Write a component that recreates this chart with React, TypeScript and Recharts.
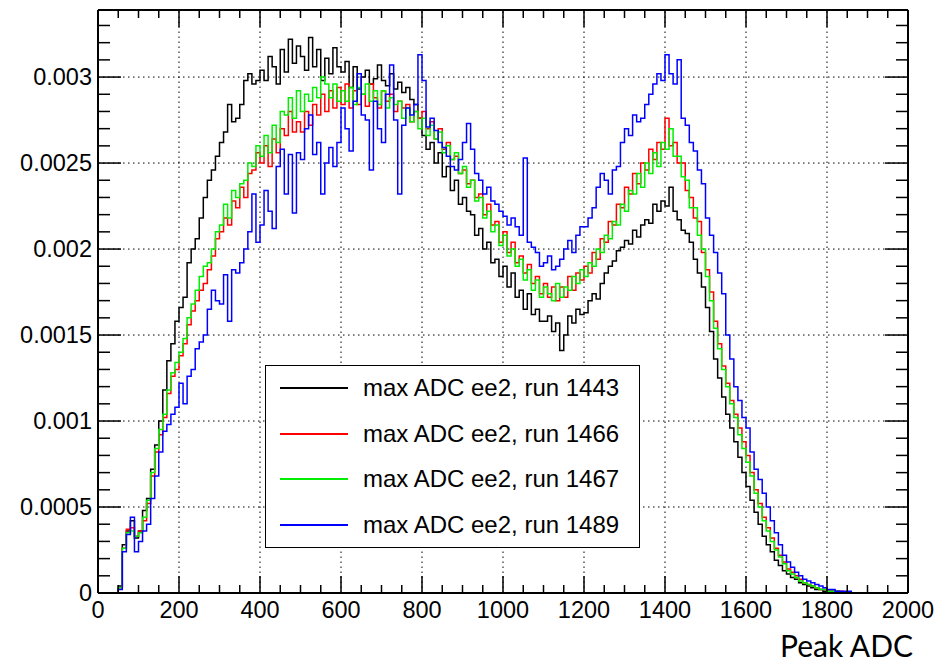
import React from 'react';
import { LineChart, Line, XAxis, YAxis, ReferenceLine, Legend } from 'recharts';

// Histogram bins: 10 ADC wide, starting at 0. Values in units of 1e-5.
const BIN_WIDTH = 10;
const UNIT = 1e-5;

const run1443 = [
  0, 0, 0, 0, 0, 4, 28, 36, 42, 32,
  36, 48, 55, 72, 86, 100, 118, 135, 145, 158,
  166, 172, 192, 200, 206, 218, 230, 240, 246, 254,
  262, 268, 284, 274, 276, 284, 298, 302, 296, 298,
  304, 298, 312, 306, 296, 316, 303, 322, 308, 318,
  312, 304, 323, 306, 316, 298, 311, 302, 317, 306,
  303, 309, 294, 306, 293, 300, 304, 296, 299, 307,
  298, 295, 302, 293, 297, 291, 294, 287, 284, 276,
  266, 258, 262, 250, 256, 242, 248, 234, 240, 226,
  230, 222, 220, 208, 212, 200, 204, 192, 194, 184,
  190, 178, 186, 172, 176, 165, 174, 162, 165, 158,
  158, 161, 152, 157, 141, 150, 161, 157, 165, 162,
  163, 170, 174, 171, 180, 186, 190, 193, 199, 201,
  205, 203, 211, 207, 214, 217, 215, 226, 222, 228,
  225, 236, 222, 217, 211, 209, 204, 194, 186, 178,
  166, 152, 136, 125, 114, 104, 96, 88, 79, 70,
  62, 54, 47, 40, 33, 28, 24, 19, 16, 13,
  11, 9, 8, 6, 5, 4, 3, 2, 2, 1,
  1, 1, 1, 0, 0, 0, 0, 0, 0, 0,
  0, 0, 0, 0, 0, 0, 0, 0, 0, 0,
];

const run1466 = [
  0, 0, 0, 0, 0, 3, 26, 37, 38, 33,
  36, 42, 52, 68, 82, 92, 102, 116, 126, 130,
  138, 145, 156, 164, 170, 176, 180, 188, 196, 206,
  210, 218, 214, 228, 224, 236, 230, 244, 246, 256,
  250, 260, 248, 264, 256, 270, 266, 280, 268, 274,
  268, 280, 272, 284, 278, 290, 280, 292, 282, 294,
  284, 296, 282, 292, 284, 290, 283, 296, 288, 282,
  292, 286, 290, 280, 286, 282, 284, 274, 280, 276,
  280, 270, 274, 264, 270, 258, 262, 252, 254, 244,
  246, 238, 240, 230, 232, 220, 226, 214, 216, 204,
  210, 198, 204, 192, 196, 186, 191, 180, 184, 174,
  180, 172, 178, 170, 178, 172, 184, 176, 186, 182,
  190, 186, 198, 194, 206, 204, 216, 214, 226, 224,
  236, 232, 244, 238, 250, 246, 258, 252, 262, 258,
  276, 260, 262, 250, 250, 234, 230, 218, 216, 198,
  188, 175, 158, 145, 132, 122, 112, 104, 96, 88,
  80, 70, 60, 52, 44, 38, 32, 26, 22, 18,
  14, 12, 10, 8, 6, 5, 4, 3, 2, 2,
  1, 1, 1, 1, 0, 0, 0, 0, 0, 0,
  0, 0, 0, 0, 0, 0, 0, 0, 0, 0,
];

const run1467 = [
  0, 0, 0, 0, 0, 3, 26, 35, 36, 33,
  35, 44, 54, 70, 84, 95, 104, 118, 128, 134,
  140, 148, 160, 168, 176, 184, 190, 192, 200, 210,
  214, 226, 218, 234, 230, 238, 240, 250, 248, 260,
  254, 266, 256, 272, 262, 280, 278, 288, 276, 292,
  280, 290, 286, 294, 288, 300, 296, 288, 296, 286,
  292, 286, 294, 284, 294, 290, 296, 286, 292, 284,
  292, 282, 288, 284, 286, 276, 282, 274, 280, 270,
  276, 266, 272, 264, 268, 256, 260, 252, 256, 244,
  248, 236, 240, 228, 230, 218, 222, 210, 214, 202,
  208, 196, 200, 190, 194, 182, 188, 176, 182, 172,
  178, 174, 170, 180, 172, 178, 176, 184, 180, 188,
  184, 192, 190, 200, 198, 208, 206, 216, 214, 226,
  222, 234, 232, 244, 236, 250, 244, 256, 248, 262,
  258, 270, 254, 254, 242, 240, 224, 224, 208, 200,
  184, 170, 154, 142, 130, 120, 110, 102, 92, 84,
  76, 68, 58, 50, 42, 36, 30, 25, 21, 17,
  13, 11, 9, 7, 6, 5, 4, 3, 2, 2,
  1, 1, 1, 0, 0, 0, 0, 0, 0, 0,
  0, 0, 0, 0, 0, 0, 0, 0, 0, 0,
];

const run1489 = [
  0, 0, 0, 0, 0, 2, 24, 34, 44, 24,
  30, 36, 40, 55, 68, 82, 94, 98, 104, 108,
  122, 110, 126, 130, 142, 146, 150, 165, 176, 170,
  168, 185, 158, 188, 186, 192, 200, 210, 232, 204,
  214, 234, 222, 212, 248, 258, 232, 255, 221, 256,
  252, 270, 278, 255, 262, 232, 250, 259, 248, 262,
  282, 270, 257, 286, 302, 278, 275, 246, 286, 270,
  262, 290, 307, 275, 232, 272, 282, 278, 284, 313,
  298, 271, 276, 269, 262, 259, 254, 248, 246, 252,
  262, 273, 258, 244, 240, 232, 236, 228, 226, 222,
  219, 214, 218, 213, 208, 253, 204, 201, 198, 190,
  192, 196, 188, 190, 194, 200, 205, 198, 208, 213,
  213, 218, 224, 236, 244, 240, 232, 246, 248, 262,
  270, 266, 278, 274, 276, 284, 290, 296, 302, 298,
  313, 302, 296, 310, 276, 272, 262, 257, 246, 238,
  218, 208, 198, 186, 174, 150, 136, 120, 112, 102,
  96, 82, 72, 66, 58, 50, 42, 35, 28, 22,
  18, 15, 12, 10, 8, 7, 6, 5, 4, 3,
  2, 2, 1, 1, 1, 1, 0, 0, 0, 0,
  0, 0, 0, 0, 0, 0, 0, 0, 0, 0,
];

const seriesKeys = ['run1443', 'run1466', 'run1467', 'run1489'];
const seriesNames = [
  'max ADC ee2, run 1443',
  'max ADC ee2, run 1466',
  'max ADC ee2, run 1467',
  'max ADC ee2, run 1489',
];
const seriesColors = ['#000000', '#ff0000', '#00ee00', '#0000ff'];

const xMajorTicks = [0, 200, 400, 600, 800, 1000, 1200, 1400, 1600, 1800, 2000];
const xTickLabels = ['0', '200', '400', '600', '800', '1000', '1200', '1400', '1600', '1800', '2000'];
const yMajorTicks = [0, 0.0005, 0.001, 0.0015, 0.002, 0.0025, 0.003];
const yTickLabels = ['0', '0.0005', '0.001', '0.0015', '0.002', '0.0025', '0.003'];
const xAxisTitle = 'Peak ADC';

const X_MAX = 2000;
const Y_MAX = 0.00339;

// minor tick positions (axis decoration)
const xAllTicks: number[] = [];
for (let v = 0; v <= X_MAX; v += 50) xAllTicks.push(v);
const yAllTicks: number[] = [];
for (let i = 0; i <= 33; i++) yAllTicks.push(Number((i * 0.0001).toFixed(4)));

const allSeries = [run1443, run1466, run1467, run1489];
const data: any[] = [];
for (let i = 0; i < run1443.length; i++) {
  const row: any = { x: i * BIN_WIDTH };
  seriesKeys.forEach((k, s) => (row[k] = allSeries[s][i] * UNIT));
  data.push(row);
}
{
  const last: any = { x: X_MAX };
  seriesKeys.forEach((k, s) => (last[k] = allSeries[s][allSeries[s].length - 1] * UNIT));
  data.push(last);
}

const FONT = '"Liberation Sans", Arial, Helvetica, sans-serif';
const TICK_FS = 23.5;

const isXMajor = (v: number) => xMajorTicks.indexOf(v) >= 0;
const yMajorIndex = (v: number) => yMajorTicks.findIndex((t) => Math.abs(t - v) < 1e-9);

const XBottomTick = (props: any) => {
  const { x, y, payload } = props;
  const v = payload.value;
  const major = isXMajor(v);
  return (
    <g>
      <line x1={x} y1={y} x2={x} y2={y - (major ? 17 : 8)} stroke="#000" strokeWidth={1.5} />
      {major && (
        <text x={x} y={y + 25} textAnchor="middle" fontSize={TICK_FS} fontFamily={FONT} fill="#000">
          {xTickLabels[xMajorTicks.indexOf(v)]}
        </text>
      )}
    </g>
  );
};

const XTopTick = (props: any) => {
  const { x, y, payload } = props;
  const major = isXMajor(payload.value);
  return <line x1={x} y1={y} x2={x} y2={y + (major ? 17 : 8)} stroke="#000" strokeWidth={1.5} />;
};

const YLeftTick = (props: any) => {
  const { x, y, payload } = props;
  const idx = yMajorIndex(payload.value);
  const major = idx >= 0;
  return (
    <g>
      <line x1={x} y1={y} x2={x + (major ? 23 : 12)} y2={y} stroke="#000" strokeWidth={1.5} />
      {major && (
        <text x={x - 6} y={y + 8} textAnchor="end" fontSize={TICK_FS} fontFamily={FONT} fill="#000">
          {yTickLabels[idx]}
        </text>
      )}
    </g>
  );
};

const YRightTick = (props: any) => {
  const { x, y, payload } = props;
  const major = yMajorIndex(payload.value) >= 0;
  return <line x1={x} y1={y} x2={x - (major ? 23 : 12)} y2={y} stroke="#000" strokeWidth={1.5} />;
};

const renderLegend = (props: any) => {
  const payload = props.payload || [];
  return (
    <div
      style={{
        position: 'relative',
        width: 375,
        height: 183,
        border: '1.5px solid #000',
        boxSizing: 'border-box',
        background: '#fff',
        fontFamily: FONT,
        fontSize: 24,
      }}
    >
      {payload.map((p: any, i: number) => (
        <div
          key={i}
          style={{ position: 'absolute', left: 0, top: 22 + i * 45.5 - 15, height: 30, width: '100%' }}
        >
          <div style={{ position: 'absolute', left: 14, top: 14, width: 68, height: 0, borderTop: `2px solid ${p.color}` }} />
          <div style={{ position: 'absolute', left: 97, top: 0, lineHeight: '30px', whiteSpace: 'nowrap', color: '#000' }}>
            {p.value}
          </div>
        </div>
      ))}
    </div>
  );
};

export default function App() {
  return (
    <div style={{ position: 'relative', width: 936, height: 650, background: '#fff' }}>
      <LineChart width={936} height={650} data={data} margin={{ top: 0, right: 0, bottom: 0, left: 0 }}>
        {xMajorTicks.slice(1, -1).map((v) => (
          <ReferenceLine key={'gx' + v} x={v} xAxisId="bottom" yAxisId="left" stroke="#000" strokeWidth={1} strokeDasharray="1.5 3.5" />
        ))}
        {yMajorTicks.slice(1).map((v) => (
          <ReferenceLine key={'gy' + v} y={v} xAxisId="bottom" yAxisId="left" stroke="#000" strokeWidth={1} strokeDasharray="1.5 3.5" />
        ))}
        <XAxis
          xAxisId="bottom"
          dataKey="x"
          type="number"
          domain={[0, X_MAX]}
          ticks={xAllTicks}
          interval={0}
          tickSize={0}
          tickMargin={0}
          height={65}
          tick={<XBottomTick />}
          axisLine={{ stroke: '#000', strokeWidth: 2 }}
          allowDataOverflow
        />
        <XAxis
          xAxisId="top"
          orientation="top"
          dataKey="x"
          type="number"
          domain={[0, X_MAX]}
          ticks={xAllTicks}
          interval={0}
          tickSize={0}
          tickMargin={0}
          height={2}
          tick={<XTopTick />}
          axisLine={{ stroke: '#000', strokeWidth: 2 }}
          allowDataOverflow
        />
        <YAxis
          yAxisId="left"
          type="number"
          domain={[0, Y_MAX]}
          ticks={yAllTicks}
          interval={0}
          tickSize={0}
          tickMargin={0}
          width={90}
          tick={<YLeftTick />}
          axisLine={{ stroke: '#000', strokeWidth: 2 }}
          allowDataOverflow
        />
        <YAxis
          yAxisId="right"
          orientation="right"
          type="number"
          domain={[0, Y_MAX]}
          ticks={yAllTicks}
          interval={0}
          tickSize={0}
          tickMargin={0}
          width={36}
          tick={<YRightTick />}
          axisLine={{ stroke: '#000', strokeWidth: 2 }}
          allowDataOverflow
        />
        {seriesKeys.map((k, i) => (
          <Line
            key={k}
            xAxisId="bottom"
            yAxisId="left"
            dataKey={k}
            name={seriesNames[i]}
            type="stepAfter"
            stroke={seriesColors[i]}
            strokeWidth={1.5}
            dot={false}
            activeDot={false}
            isAnimationActive={false}
          />
        ))}
        <Legend
          layout="vertical"
          align="center"
          verticalAlign="middle"
          content={renderLegend}
          wrapperStyle={{ position: 'absolute', left: 257, top: 357, width: 375, height: 183 }}
        />
      </LineChart>
      <svg width={936} height={660} style={{ position: 'absolute', left: 0, top: 0, pointerEvents: 'none', overflow: 'visible' }}>
        <text x={905} y={649} textAnchor="end" fontSize={30} fontFamily="Lato, 'Open Sans', sans-serif" fill="#000">
          {xAxisTitle}
        </text>
      </svg>
    </div>
  );
}
